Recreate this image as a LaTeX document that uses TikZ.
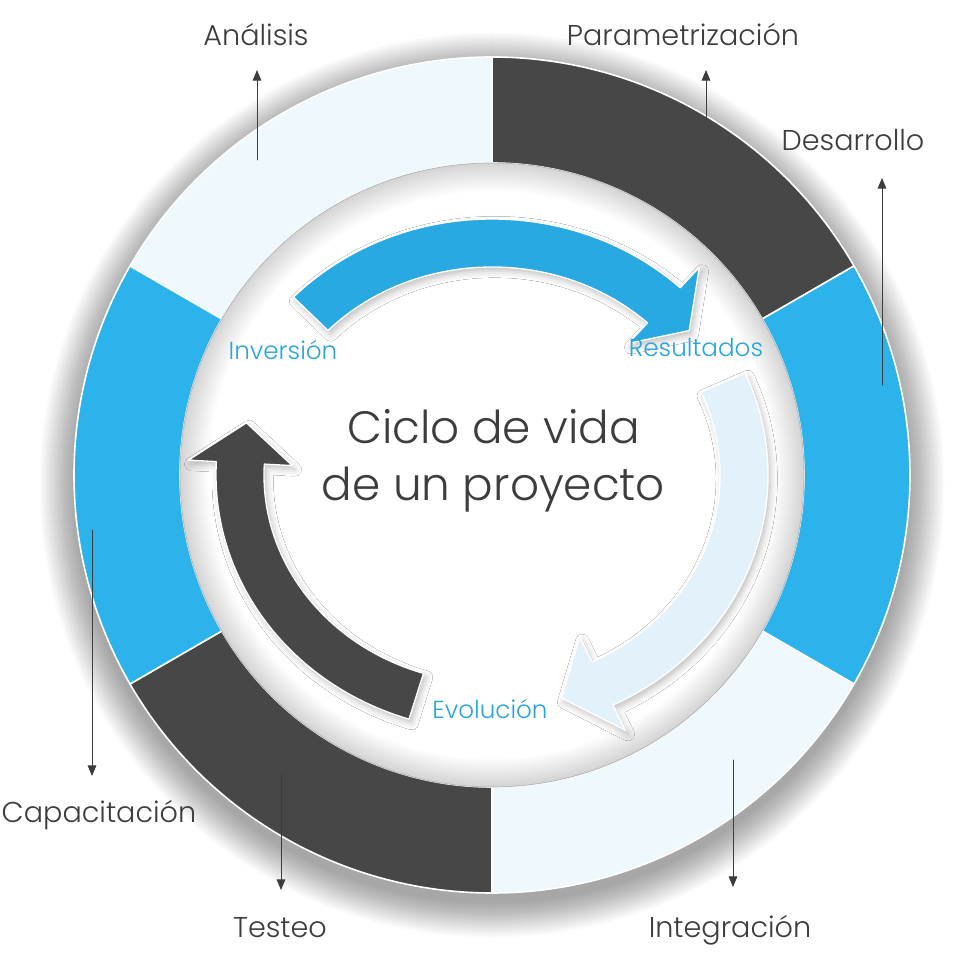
\documentclass[tikz,border=0pt]{standalone}
\usepackage{fontspec}
\setmainfont{Poppins}[UprightFont={* Light}]
\usetikzlibrary{arrows.meta, shadows.blur}
\definecolor{ringBlue}{HTML}{2DB3EC}
\definecolor{ringDark}{HTML}{474747}
\definecolor{ringLight}{HTML}{EEF8FD}
\definecolor{arrowBlue}{HTML}{29A9E1}
\definecolor{arrowLight}{HTML}{E3F1FB}
\definecolor{textGray}{HTML}{3D3D3D}
\definecolor{labelBlue}{HTML}{2AA5DC}
\pgfmathsetmacro{\outerRadius}{418}
\pgfmathsetmacro{\innerRadius}{312}
\newcommand{\cycleArrow}[4]{%
	\filldraw[#4] (#1:276 and 256) arc[start angle=#1, end angle=#2, x radius=276, y radius=256]
		-- (#2:304 and 284) -- (#3:252 and 232) -- (#2:200 and 180) -- (#2:228 and 208)
		arc[start angle=#2, end angle=#1, x radius=228, y radius=208] -- cycle;
}

\begin{document}
\begin{tikzpicture}[x=0.75pt, y=0.75pt, line cap=round, line join=round,
	stageLabel/.style={font=\fontsize{21.5}{26}\selectfont, text=textGray, inner sep=0pt, anchor=base},
	cycleLabel/.style={font=\fontsize{18.5}{22}\selectfont, text=labelBlue, inner sep=0pt, anchor=base},
	pointer/.style={draw=textGray, line width=0.7pt, -{Triangle[length=8pt, width=6.5pt]}},
	arrowShadow/.style={draw=white, line width=1pt, blur shadow={shadow xshift=2pt, shadow yshift=-3pt, shadow blur radius=5pt, shadow opacity=25}}]
	\fill[white] (-492,-494) rectangle (462,475);
	\useasboundingbox (-492,-494) rectangle (462,475);
	\foreach \shadowStep in {1,...,24}
		\fill[black, opacity=0.016] (0,-10) circle (\outerRadius+36-\shadowStep*1.5);
	\foreach \startAngle/\segColor in {90/ringLight, 30/ringDark, -30/ringBlue, -90/ringLight, -150/ringDark, 150/ringBlue} {
		\filldraw[fill=\segColor, draw=white, line width=1.2pt] (\startAngle:\outerRadius) arc[start angle=\startAngle, end angle=\startAngle+60, radius=\outerRadius]
			-- (\startAngle+60:\innerRadius) arc[start angle=\startAngle+60, end angle=\startAngle, radius=\innerRadius] -- cycle;
	}
	\begin{scope}
		\clip (0,0) circle (\innerRadius);
		\fill[white] (0,0) circle (\innerRadius);
		\foreach \glowStep in {1,...,14}
			\draw[black, opacity=0.011, line width=\glowStep*3] (0,0) circle (\innerRadius);
	\end{scope}
	\draw[black!30, line width=0.5pt] (0,0) circle (\innerRadius);

	\cycleArrow{136}{47}{38.5}{fill=arrowBlue, arrowShadow}
	\cycleArrow{23.5}{-64}{-74}{fill=arrowLight, arrowShadow}
	\cycleArrow{-107.5}{-183}{-193}{fill=ringDark, arrowShadow}

	\node[font=\fontsize{34}{42.75}\selectfont, text=textGray, align=center] (title) at (1.5,14.5) {Ciclo de vida\\de un proyecto};
	\node[cycleLabel] (inversion) at (-209,115) {Inversión};
	\node[cycleLabel] (resultados) at (204,118) {Resultados};
	\node[cycleLabel] (evolucion) at (-2,-243) {Evolución};

	\node[stageLabel] (analisis) at (-236,429) {Análisis};
	\node[stageLabel] (parametrizacion) at (191,429) {Parametrización};
	\node[stageLabel] (desarrollo) at (361,324) {Desarrollo};
	\node[stageLabel] (capacitacion) at (-393,-347) {Capacitación};
	\node[stageLabel] (testeo) at (-212,-462) {Testeo};
	\node[stageLabel] (integracion) at (238,-462) {Integración};

	\coordinate (anaFrom) at (-235,315);
	\coordinate (parFrom) at (214,355);
	\coordinate (desFrom) at (390,90);
	\coordinate (capFrom) at (-400,-55);
	\coordinate (tesFrom) at (-211,-299);
	\coordinate (intFrom) at (241,-285);
	\draw[pointer, shorten >=18pt] (anaFrom) -- (anaFrom |- analisis.base);
	\draw[pointer, shorten >=18pt] (parFrom) -- (parFrom |- parametrizacion.base);
	\draw[pointer, shorten >=20.25pt] (desFrom) -- (desFrom |- desarrollo.base);
	\draw[pointer, shorten >=34.5pt] (capFrom) -- (capFrom |- capacitacion.base);
	\draw[pointer, shorten >=35.25pt] (tesFrom) -- (tesFrom |- testeo.base);
	\draw[pointer, shorten >=37.5pt] (intFrom) -- (intFrom |- integracion.base);
\end{tikzpicture}
\end{document}
